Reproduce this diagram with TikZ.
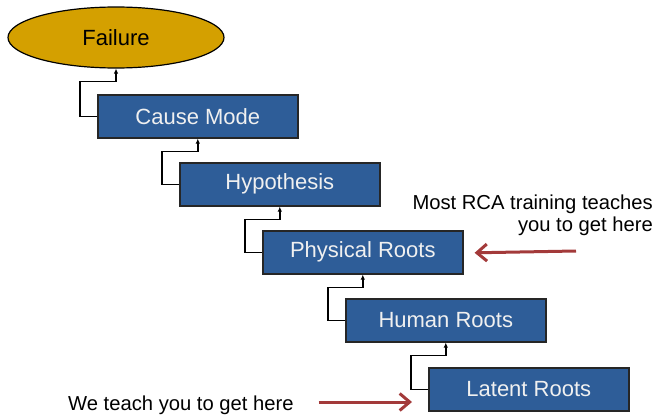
\documentclass[tikz,border=0pt]{standalone}
\usepackage{fontspec}
\setmainfont{Liberation Sans}
\usepackage{tikz}
\usetikzlibrary{shapes.geometric,arrows.meta}
\definecolor{rcablue}{RGB}{46,93,152}
\definecolor{rcagold}{RGB}{212,160,0}
\definecolor{rcared}{RGB}{163,58,58}
\newcommand{\stage}[3]{\node[stagebox] (#1) at (#2) {#3};}

\begin{document}
\begin{tikzpicture}[
      x=1pt,y=-1pt,
      stagebox/.style={rectangle,draw=black!85,line width=1.6pt,fill=rcablue,anchor=north west,
        minimum width=200pt,minimum height=43pt,inner sep=0pt,
        text=white!94!black,font=\fontsize{22}{24}\selectfont},
      topnode/.style={ellipse,draw=black,line width=1.2pt,fill=rcagold,
        minimum width=216pt,minimum height=61pt,inner sep=0pt,font=\fontsize{22}{24}\selectfont},
      link/.style={line width=1.5pt,draw=black,-{Latex[length=5pt,width=4.5pt]}},
      redarrow/.style={line width=3pt,draw=rcared,-{Straight Barb[length=10pt,width=17pt]}},
      note/.style={font=\fontsize{20.2}{22}\selectfont,inner sep=0pt}
      ]
      \useasboundingbox (0,0) rectangle (656,415);
      \node[topnode] (failure) at (116,37.5) {Failure};
      \stage{cause}{97,94}{Cause Mode}
      \stage{hypo}{179,162}{Hypothesis}
      \stage{phys}{262,230}{Physical Roots}
      \stage{human}{345,298}{Human Roots}
      \stage{latent}{428,367}{Latent Roots}
      % step connectors
      \foreach \a/\b in {cause/failure,hypo/cause,phys/hypo,human/phys,latent/human}
        \draw[link] (\a.west) -- ++(-17,0) |- ([yshift=-13pt]\b.south) -- (\b.south);
      % notes
      \node[note,align=right,anchor=east] (most) at (653,215) {Most RCA training teaches\\you to get here};
      \coordinate (mosttail) at (576,251);
      \draw[redarrow] (mosttail) -- ([xshift=11pt,yshift=-0.5pt]phys.east);
      \node[note,anchor=base west] (we) at (68,410) {We teach you to get here};
      \coordinate (wehead) at (412,402);
      \draw[redarrow] ([xshift=25pt]we.east |- wehead) -- (wehead);
    \end{tikzpicture}
\end{document}
